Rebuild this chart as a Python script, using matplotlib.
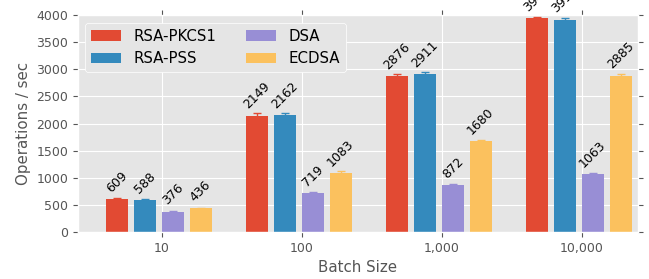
import numpy as np
import matplotlib
matplotlib.use("Agg")
import matplotlib.pyplot as plt

plt.style.use("ggplot")
plt.rcParams["font.size"] = 9

batch_sizes = ["10", "100", "1,000", "10,000"]
schemes = ["RSA-PKCS1", "RSA-PSS", "DSA", "ECDSA"]
colors = ["#E24A33", "#348ABD", "#988ED5", "#FBC15E"]

rsa_pkcs1 = [609, 2149, 2876, 3942]
rsa_pss = [588, 2162, 2911, 3916]
dsa = [376, 719, 872, 1063]
ecdsa = [436, 1083, 1680, 2885]

rsa_pkcs1_err = [20, 45, 40, 25]
rsa_pss_err = [20, 30, 40, 25]
dsa_err = [15, 20, 20, 20]
ecdsa_err = [15, 50, 20, 30]

values = [rsa_pkcs1, rsa_pss, dsa, ecdsa]
errors = [rsa_pkcs1_err, rsa_pss_err, dsa_err, ecdsa_err]

fig, ax = plt.subplots(figsize=(6.49, 2.79), dpi=100)
fig.subplots_adjust(left=0.12, right=0.983, bottom=0.168, top=0.946)

x = np.arange(len(batch_sizes))
width = 0.155
for k in range(len(schemes)):
    bars = ax.bar(x - 0.4 + 0.2 * k, values[k], width, align="edge",
                  color=colors[k], label=schemes[k],
                  yerr=errors[k], ecolor=colors[k], capsize=3,
                  error_kw={"elinewidth": 1, "capthick": 1})
    for b, v in zip(bars, values[k]):
        ax.annotate(str(v), (b.get_x() + b.get_width() / 2, v),
                    xytext=(0, 3), textcoords="offset points",
                    ha="center", va="bottom", rotation=45, fontsize=9,
                    annotation_clip=False)

ax.set_xlim(-0.6, 3.4)
ax.set_ylim(0, 4000)
ax.set_xticks(x)
ax.set_xticklabels(batch_sizes)
ax.set_yticks(range(0, 4001, 500))
ax.set_xlabel("Batch Size")
ax.set_ylabel("Operations / sec")
ax.tick_params(top=True, right=True, labeltop=False, labelright=False)

leg = ax.legend(loc="upper left", ncol=2, fontsize=10.8,
                facecolor="#E5E5E5", edgecolor="white", framealpha=1)

fig.savefig("out.png", dpi=100)
